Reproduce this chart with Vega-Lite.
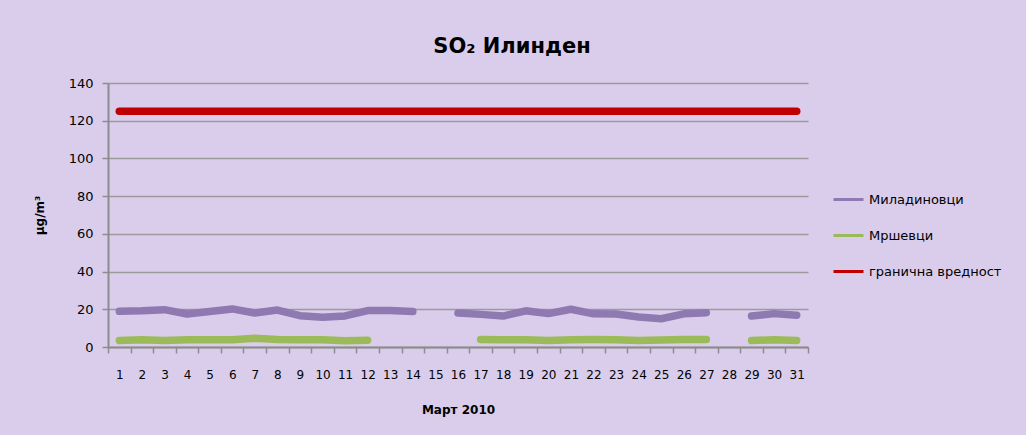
{
  "$schema": "https://vega.github.io/schema/vega-lite/v6.json",
  "autosize": {"type": "none"},
  "width": 700,
  "height": 264,
  "padding": {"left": 108, "top": 83, "right": 218, "bottom": 88},
  "background": "#dacdec",
  "config": {
    "font": "DejaVu Sans",
    "view": {"stroke": null},
    "axis": {"labelFont": "DejaVu Sans", "titleFont": "DejaVu Sans", "labelColor": "#000000", "titleColor": "#000000"}
  },
  "title": {
    "text": "SO₂ Илинден",
    "fontSize": 21,
    "fontWeight": "bold",
    "color": "#000000",
    "anchor": "middle",
    "frame": "group",
    "dx": 54,
    "offset": 20
  },
  "data": {
    "values": [
      {"day": 1, "series": "Миладиновци", "value": 18.9},
      {"day": 2, "series": "Миладиновци", "value": 19.2},
      {"day": 3, "series": "Миладиновци", "value": 19.8},
      {"day": 4, "series": "Миладиновци", "value": 17.5},
      {"day": 5, "series": "Миладиновци", "value": 18.8},
      {"day": 6, "series": "Миладиновци", "value": 20.2},
      {"day": 7, "series": "Миладиновци", "value": 18.0},
      {"day": 8, "series": "Миладиновци", "value": 19.6},
      {"day": 9, "series": "Миладиновци", "value": 16.6},
      {"day": 10, "series": "Миладиновци", "value": 15.8},
      {"day": 11, "series": "Миладиновци", "value": 16.5},
      {"day": 12, "series": "Миладиновци", "value": 19.3},
      {"day": 13, "series": "Миладиновци", "value": 19.3},
      {"day": 14, "series": "Миладиновци", "value": 18.8},
      {"day": 15, "series": "Миладиновци", "value": null},
      {"day": 16, "series": "Миладиновци", "value": 18.0},
      {"day": 17, "series": "Миладиновци", "value": 17.3},
      {"day": 18, "series": "Миладиновци", "value": 16.4},
      {"day": 19, "series": "Миладиновци", "value": 19.2},
      {"day": 20, "series": "Миладиновци", "value": 17.7},
      {"day": 21, "series": "Миладиновци", "value": 20.0},
      {"day": 22, "series": "Миладиновци", "value": 17.6},
      {"day": 23, "series": "Миладиновци", "value": 17.5},
      {"day": 24, "series": "Миладиновци", "value": 15.9},
      {"day": 25, "series": "Миладиновци", "value": 15.0},
      {"day": 26, "series": "Миладиновци", "value": 17.6},
      {"day": 27, "series": "Миладиновци", "value": 18.2},
      {"day": 28, "series": "Миладиновци", "value": null},
      {"day": 29, "series": "Миладиновци", "value": 16.4},
      {"day": 30, "series": "Миладиновци", "value": 17.7},
      {"day": 31, "series": "Миладиновци", "value": 16.8},
      {"day": 1, "series": "Мршевци", "value": 3.5},
      {"day": 2, "series": "Мршевци", "value": 3.9},
      {"day": 3, "series": "Мршевци", "value": 3.4},
      {"day": 4, "series": "Мршевци", "value": 3.8},
      {"day": 5, "series": "Мршевци", "value": 3.9},
      {"day": 6, "series": "Мршевци", "value": 3.9},
      {"day": 7, "series": "Мршевци", "value": 4.6},
      {"day": 8, "series": "Мршевци", "value": 4.0},
      {"day": 9, "series": "Мршевци", "value": 3.9},
      {"day": 10, "series": "Мршевци", "value": 3.8},
      {"day": 11, "series": "Мршевци", "value": 3.3},
      {"day": 12, "series": "Мршевци", "value": 3.6},
      {"day": 13, "series": "Мршевци", "value": null},
      {"day": 14, "series": "Мршевци", "value": null},
      {"day": 15, "series": "Мршевци", "value": null},
      {"day": 16, "series": "Мршевци", "value": null},
      {"day": 17, "series": "Мршевци", "value": 4.0},
      {"day": 18, "series": "Мршевци", "value": 3.9},
      {"day": 19, "series": "Мршевци", "value": 3.8},
      {"day": 20, "series": "Мршевци", "value": 3.4},
      {"day": 21, "series": "Мршевци", "value": 3.9},
      {"day": 22, "series": "Мршевци", "value": 4.0},
      {"day": 23, "series": "Мршевци", "value": 3.9},
      {"day": 24, "series": "Мршевци", "value": 3.5},
      {"day": 25, "series": "Мршевци", "value": 3.7},
      {"day": 26, "series": "Мршевци", "value": 4.0},
      {"day": 27, "series": "Мршевци", "value": 4.0},
      {"day": 28, "series": "Мршевци", "value": null},
      {"day": 29, "series": "Мршевци", "value": 3.4},
      {"day": 30, "series": "Мршевци", "value": 3.9},
      {"day": 31, "series": "Мршевци", "value": 3.5},
      {"day": 1, "series": "гранична вредност", "value": 125},
      {"day": 2, "series": "гранична вредност", "value": 125},
      {"day": 3, "series": "гранична вредност", "value": 125},
      {"day": 4, "series": "гранична вредност", "value": 125},
      {"day": 5, "series": "гранична вредност", "value": 125},
      {"day": 6, "series": "гранична вредност", "value": 125},
      {"day": 7, "series": "гранична вредност", "value": 125},
      {"day": 8, "series": "гранична вредност", "value": 125},
      {"day": 9, "series": "гранична вредност", "value": 125},
      {"day": 10, "series": "гранична вредност", "value": 125},
      {"day": 11, "series": "гранична вредност", "value": 125},
      {"day": 12, "series": "гранична вредност", "value": 125},
      {"day": 13, "series": "гранична вредност", "value": 125},
      {"day": 14, "series": "гранична вредност", "value": 125},
      {"day": 15, "series": "гранична вредност", "value": 125},
      {"day": 16, "series": "гранична вредност", "value": 125},
      {"day": 17, "series": "гранична вредност", "value": 125},
      {"day": 18, "series": "гранична вредност", "value": 125},
      {"day": 19, "series": "гранична вредност", "value": 125},
      {"day": 20, "series": "гранична вредност", "value": 125},
      {"day": 21, "series": "гранична вредност", "value": 125},
      {"day": 22, "series": "гранична вредност", "value": 125},
      {"day": 23, "series": "гранична вредност", "value": 125},
      {"day": 24, "series": "гранична вредност", "value": 125},
      {"day": 25, "series": "гранична вредност", "value": 125},
      {"day": 26, "series": "гранична вредност", "value": 125},
      {"day": 27, "series": "гранична вредност", "value": 125},
      {"day": 28, "series": "гранична вредност", "value": 125},
      {"day": 29, "series": "гранична вредност", "value": 125},
      {"day": 30, "series": "гранична вредност", "value": 125},
      {"day": 31, "series": "гранична вредност", "value": 125}
    ]
  },
  "mark": {"type": "line", "strokeWidth": 7.5, "strokeCap": "round", "strokeJoin": "round", "invalid": "break-paths-filter-domains"},
  "encoding": {
    "x": {
      "field": "day",
      "type": "ordinal",
      "scale": {"type": "band", "paddingInner": 0, "paddingOuter": 0},
      "axis": {
        "title": "Март 2010",
        "titleFontSize": 12,
        "titleFontWeight": "bold",
        "titlePadding": 24,
        "labelAngle": 0,
        "labelFontSize": 12,
        "labelPadding": 16,
        "tickBand": "extent",
        "tickSize": 6,
        "tickColor": "#8c8c8c",
        "tickWidth": 1.5,
        "domainColor": "#8c8c8c",
        "domainWidth": 2,
        "grid": false
      }
    },
    "y": {
      "field": "value",
      "type": "quantitative",
      "scale": {"domain": [0, 140], "nice": false},
      "axis": {
        "title": "µg/m³",
        "titleFontSize": 12,
        "titleFontWeight": "bold",
        "titlePadding": 22,
        "values": [0, 20, 40, 60, 80, 100, 120, 140],
        "labelFontSize": 13,
        "labelPadding": 9,
        "tickSize": 6,
        "tickColor": "#8c8c8c",
        "tickWidth": 1.5,
        "domainColor": "#8c8c8c",
        "domainWidth": 2,
        "grid": true,
        "gridColor": "#9a9a9a",
        "gridWidth": 1.5
      }
    },
    "color": {
      "field": "series",
      "type": "nominal",
      "scale": {
        "domain": ["Миладиновци", "Мршевци", "гранична вредност"],
        "range": ["#8e79b1", "#9bbb59", "#c00000"]
      },
      "legend": {
        "title": null,
        "orient": "none",
        "legendX": 724,
        "legendY": 100,
        "symbolType": "stroke",
        "symbolSize": 900,
        "symbolStrokeWidth": 3,
        "labelFontSize": 13,
        "labelColor": "#000000",
        "labelOffset": 4,
        "rowPadding": 12,
        "encode": {"symbols": {"update": {"strokeWidth": {"value": 3}}}}
      }
    }
  }
}
